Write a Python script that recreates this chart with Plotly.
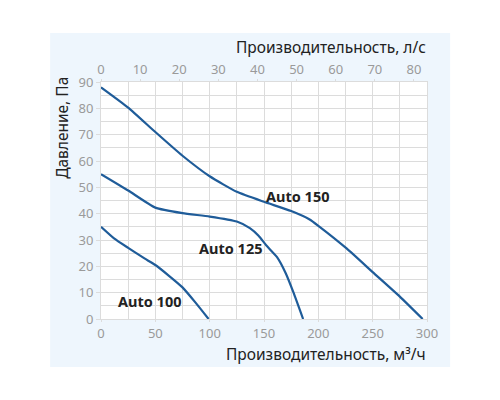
import plotly.graph_objects as go

# Fan curves: airflow m3/h vs static pressure Pa
AUTO150_FLOW = [0, 25, 50, 75, 100, 125, 150, 175, 192, 200, 226, 250, 275, 296]
AUTO150_PRESS = [88, 80.3, 71, 62, 54.2, 48.3, 44.5, 41, 37.8, 35.4, 26.8, 17.8, 8.5, 0]

AUTO125_FLOW = [0, 25, 50, 75, 100, 125, 137, 145, 152, 162, 170, 177, 186]
AUTO125_PRESS = [55, 48.8, 42.3, 40.2, 38.9, 37, 34.5, 31.6, 28, 23.5, 17.4, 10.2, 0]

AUTO100_FLOW = [0, 12, 25, 40, 50, 62, 75, 87, 99]
AUTO100_PRESS = [35, 30.6, 27, 23, 20.5, 16.6, 12, 6.2, 0]

LABELS = ["Auto 150", "Auto 125", "Auto 100"]
LABEL_POS = [(181, 46.7), (119.6, 27), (44.6, 6.8)]

LS_TICKS = [0, 10, 20, 30, 40, 50, 60, 70, 80]
M3H_PER_LS = 3.6

LINE_COLOUR = "#1f5c99"
PANEL_COLOUR = "#eef6fd"
GRID_COLOUR = "#dcdcdc"
TICK_COLOUR = "#9a9a9a"
FONT = "Noto Sans"

fig = go.Figure()

for flow, press in [
    (AUTO150_FLOW, AUTO150_PRESS),
    (AUTO125_FLOW, AUTO125_PRESS),
    (AUTO100_FLOW, AUTO100_PRESS),
]:
    fig.add_trace(
        go.Scatter(
            x=flow,
            y=press,
            mode="lines",
            line={"color": LINE_COLOUR, "width": 2.2, "shape": "spline", "smoothing": 0.5},
            showlegend=False,
            hoverinfo="skip",
        )
    )

# invisible trace so the top l/s axis is drawn
fig.add_trace(
    go.Scatter(
        x=[f / M3H_PER_LS for f in AUTO150_FLOW],
        y=AUTO150_PRESS,
        xaxis="x2",
        mode="lines",
        opacity=0,
        showlegend=False,
        hoverinfo="skip",
    )
)

for text, (lx, ly) in zip(LABELS, LABEL_POS):
    fig.add_annotation(
        x=lx, y=ly, text=f"<b>{text}</b>", showarrow=False,
        font={"family": FONT, "size": 14.5, "color": "#222222"},
    )

title_font = {"family": FONT, "size": 15.5, "color": "#222222"}
fig.add_annotation(
    xref="paper", yref="paper", x=1.003, y=1.148, xanchor="right", yanchor="middle",
    text="Производительность, л/с", showarrow=False, font=title_font,
)
fig.add_annotation(
    xref="paper", yref="paper", x=1.003, y=-0.148, xanchor="right", yanchor="middle",
    text="Производительность, м³/ч", showarrow=False, font=title_font,
)
fig.add_annotation(
    xref="paper", yref="paper", x=-0.12, y=0.806, xanchor="center", yanchor="middle",
    text="Давление, Па", textangle=-90, showarrow=False, font=title_font,
)

# light blue panel behind everything, white plot area on top of it
fig.add_shape(
    type="rect", xref="paper", yref="paper", x0=-0.156, x1=1.071, y0=-0.2025, y1=1.207,
    fillcolor=PANEL_COLOUR, line={"width": 0}, layer="below",
)
fig.add_shape(
    type="rect", xref="paper", yref="paper", x0=0, x1=1, y0=0, y1=1,
    fillcolor="white", line={"width": 0}, layer="below",
)

tick_font = {"family": FONT, "size": 13, "color": TICK_COLOUR}
fig.update_layout(
    width=500,
    height=400,
    # page body adds an 8px offset, so the plot box is shifted back by that much
    margin={"l": 93, "r": 81, "t": 74, "b": 89, "autoexpand": False},
    paper_bgcolor="white",
    plot_bgcolor="white",
    xaxis={
        "range": [0, 300],
        "dtick": 50,
        "tickfont": tick_font,
        "showgrid": True,
        "gridcolor": GRID_COLOUR,
        "minor": {"dtick": 25, "showgrid": True, "gridcolor": GRID_COLOUR},
        "zeroline": False,
        "showline": True,
        "linecolor": GRID_COLOUR,
        "mirror": True,
        "ticks": "outside",
        "ticklen": 2,
        "tickcolor": GRID_COLOUR,
        "automargin": False,
    },
    xaxis2={
        "overlaying": "x",
        "side": "top",
        "range": [0, 300 / M3H_PER_LS],
        "tickvals": LS_TICKS,
        "tickfont": tick_font,
        "showgrid": False,
        "zeroline": False,
        "ticks": "outside",
        "ticklen": 2,
        "tickcolor": GRID_COLOUR,
        "automargin": False,
    },
    yaxis={
        "range": [0, 90],
        "dtick": 10,
        "tickfont": tick_font,
        "showgrid": True,
        "gridcolor": GRID_COLOUR,
        "minor": {"dtick": 5, "showgrid": True, "gridcolor": GRID_COLOUR},
        "zeroline": False,
        "showline": True,
        "linecolor": GRID_COLOUR,
        "mirror": True,
        "ticks": "outside",
        "ticklen": 4,
        "tickcolor": GRID_COLOUR,
        "automargin": False,
    },
)

fig.write_html("out.html")
